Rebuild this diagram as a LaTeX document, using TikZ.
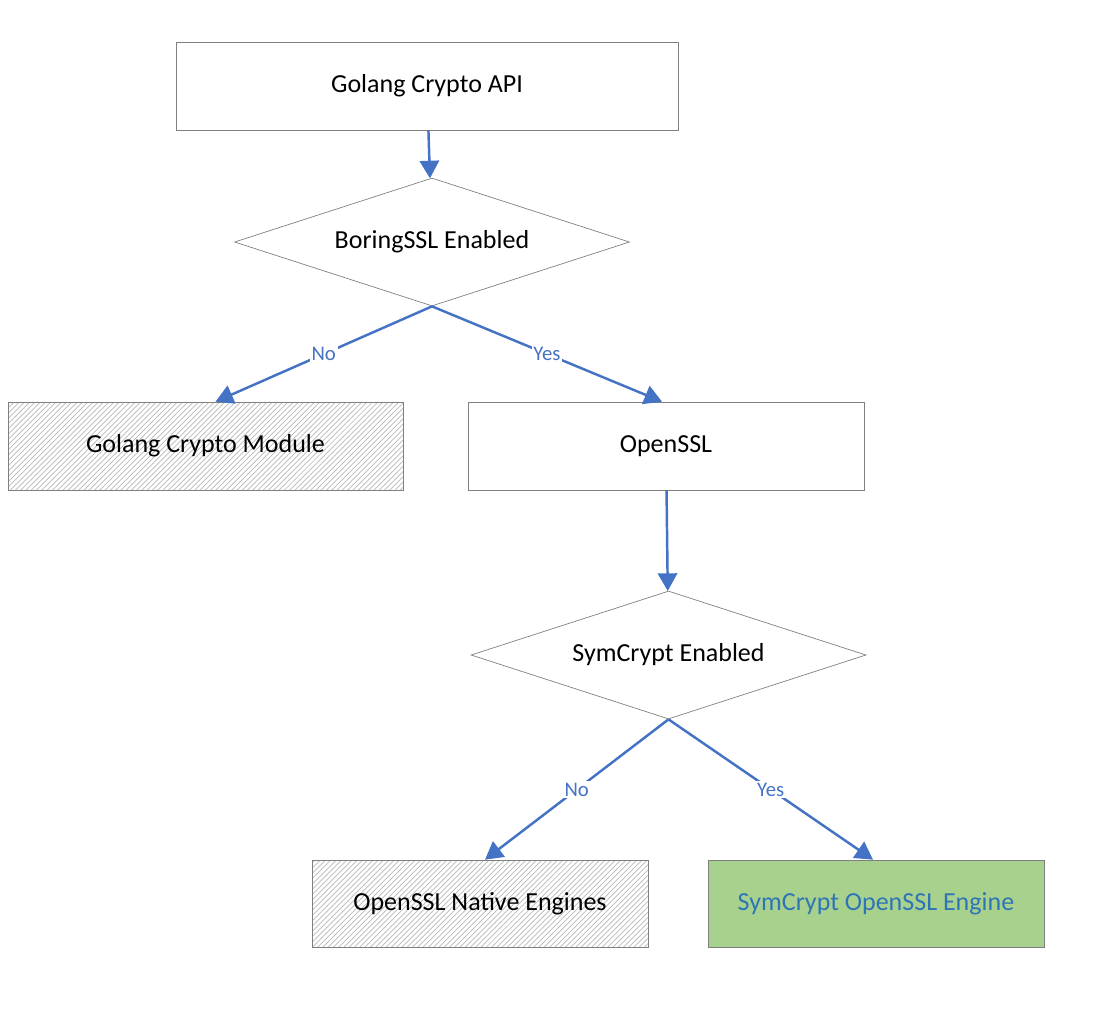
\documentclass[tikz,border=0pt]{standalone}
\usepackage{fontspec}
\setmainfont{Carlito}
\usetikzlibrary{shapes.geometric,arrows.meta,patterns}

\definecolor{flowblue}{HTML}{4472C4}
\definecolor{textblue}{HTML}{2E75B6}
\definecolor{boxgreen}{HTML}{A9D18E}

\begin{document}
\begin{tikzpicture}[
  box/.style={draw=gray, thin, minimum width=10.04cm, minimum height=1.76cm, font=\fontsize{14.8}{17}\selectfont},
  hatched/.style={box, pattern=north east lines, pattern color=gray!55},
  decision/.style={draw=gray, thin, diamond, aspect=3.1, inner sep=0pt, minimum width=7.9cm, minimum height=2.56cm, font=\fontsize{14.8}{17}\selectfont},
  flow/.style={-{Triangle[length=10pt,width=11pt]}, line width=1.4pt, color=flowblue},
  answer/.style={fill=white, inner sep=1pt, text=flowblue, font=\fontsize{11.8}{13}\selectfont}
]
\useasboundingbox (0,0) rectangle (21.98,-20.34);
\node [box] (api) at (8.54,-1.72) {Golang Crypto API};
\node [decision] (boring) at (8.64,-4.84) {BoringSSL Enabled};
\node [hatched, minimum width=7.9cm] (gomod) at (4.11,-8.92) {Golang Crypto Module};
\node [box, minimum width=7.92cm] (openssl) at (13.32,-8.92) {OpenSSL};
\node [decision] (symcrypt) at (13.37,-13.10) {SymCrypt Enabled};
\node [hatched, minimum width=6.72cm, minimum height=1.74cm] (native) at (9.60,-18.07) {OpenSSL Native Engines};
\node [box, fill=boxgreen, text=textblue, minimum width=6.72cm, minimum height=1.74cm] (engine) at (17.52,-18.07) {SymCrypt OpenSSL Engine};
\draw [flow] (api) -- (boring);
\draw [flow] (boring.south) -- ([xshift=0.2cm]gomod.north) node [answer, midway] {No};
\draw [flow] (boring.south) -- ([xshift=-0.08cm]openssl.north) node [answer, midway] {Yes};
\draw [flow] (openssl) -- (symcrypt);
\draw [flow] (symcrypt.south) -- ([xshift=0.1cm]native.north) node [answer, midway] {No};
\draw [flow] (symcrypt.south) -- ([xshift=-0.06cm]engine.north) node [answer, midway] {Yes};
\end{tikzpicture}
\end{document}
